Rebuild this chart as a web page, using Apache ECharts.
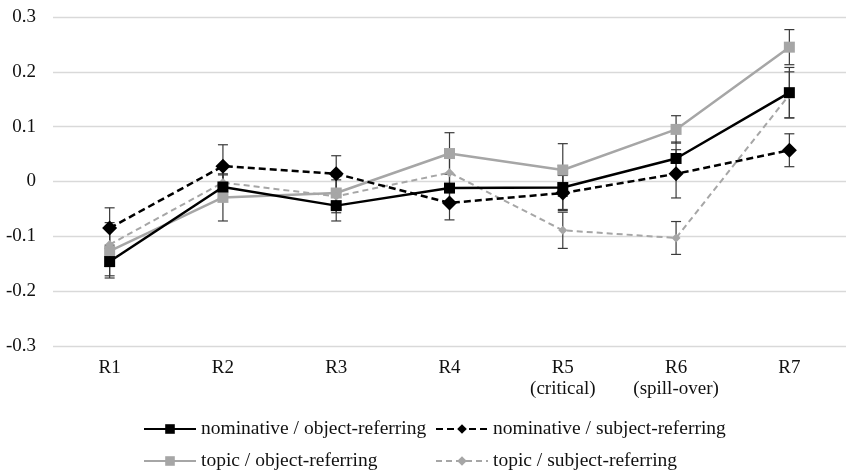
<!DOCTYPE html>
<html>
<head>
<meta charset="utf-8">
<script src="https://cdn.jsdelivr.net/npm/echarts@6/dist/echarts.min.js"></script>
<style>html,body{margin:0;padding:0;background:#fff}#c{width:846px;height:474px}</style>
</head>
<body>
<div id="c"></div>
<script>
var categories = ['R1', 'R2', 'R3', 'R4', 'R5\n(critical)', 'R6\n(spill-over)', 'R7'];
var yTicks = [-0.3, -0.2, -0.1, 0, 0.1, 0.2, 0.3];

var nomObj = [-0.146, -0.010, -0.044, -0.012, -0.011, 0.042, 0.162];
var nomObjErr = [0.030, 0.022, 0.028, 0.025, 0.040, 0.030, 0.046];

var nomSubj = [-0.085, 0.028, 0.014, -0.039, -0.021, 0.014, 0.057];
var nomSubjErr = [0.037, 0.039, 0.033, 0.031, 0.032, 0.044, 0.030];

var topObj = [-0.127, -0.029, -0.021, 0.051, 0.021, 0.095, 0.245];
var topObjErr = [0.045, 0.043, 0.030, 0.038, 0.048, 0.025, 0.032];

var topSubj = [-0.115, -0.002, -0.027, 0.016, -0.089, -0.103, 0.158];
var topSubjErr = [0.040, 0.030, 0.030, 0.030, 0.033, 0.030, 0.042];

var names = ['nominative / object-referring', 'nominative / subject-referring',
             'topic / object-referring', 'topic / subject-referring'];

var FONT = '"Liberation Serif", "DejaVu Serif", serif';

function errData(vals, errs) {
  return vals.map(function (v, i) { return [i, v - errs[i], v + errs[i]]; });
}

function errSeries(vals, errs) {
  return {
    type: 'custom',
    data: errData(vals, errs),
    encode: { x: 0, y: [1, 2] },
    silent: true,
    z: 1,
    renderItem: function (params, api) {
      var x = api.value(0);
      var lo = api.coord([x, api.value(1)]);
      var hi = api.coord([x, api.value(2)]);
      var w = 5;
      var st = { stroke: '#3a3a3a', lineWidth: 1.2, fill: null };
      return {
        type: 'group',
        children: [
          { type: 'line', shape: { x1: lo[0], y1: lo[1], x2: hi[0], y2: hi[1] }, style: st },
          { type: 'line', shape: { x1: lo[0] - w, y1: lo[1], x2: lo[0] + w, y2: lo[1] }, style: st },
          { type: 'line', shape: { x1: hi[0] - w, y1: hi[1], x2: hi[0] + w, y2: hi[1] }, style: st }
        ]
      };
    }
  };
}

var chart = echarts.init(document.getElementById('c'));
chart.setOption({
  animation: false,
  backgroundColor: '#fff',
  grid: { left: 53, top: 17, width: 800, height: 329 },
  xAxis: {
    type: 'category',
    data: categories,
    axisLine: { show: false },
    axisTick: { show: false },
    axisLabel: { fontFamily: FONT, fontSize: 19, color: '#111', margin: 12, lineHeight: 21 }
  },
  yAxis: {
    type: 'value',
    min: yTicks[0],
    max: yTicks[yTicks.length - 1],
    interval: 0.1,
    axisLine: { show: false },
    axisTick: { show: false },
    splitLine: { lineStyle: { color: '#d9d9d9', width: 1.3 } },
    axisLabel: {
      fontFamily: FONT, fontSize: 19, color: '#111', margin: 17,
      formatter: function (v) {
        var r = Math.round(v * 10) / 10;
        return r === 0 ? '0' : r.toFixed(1);
      }
    }
  },
  legend: [
    {
      orient: 'vertical', left: 143, top: 419, itemGap: 12, itemWidth: 52, itemHeight: 12,
      padding: 0,
      data: [names[0], names[2]],
      textStyle: { fontFamily: FONT, fontSize: 19.5, color: '#111', lineHeight: 20 }
    },
    {
      orient: 'vertical', left: 435, top: 419, itemGap: 12, itemWidth: 52, itemHeight: 12,
      padding: 0,
      data: [names[1], names[3]],
      textStyle: { fontFamily: FONT, fontSize: 19.5, color: '#111', lineHeight: 20 }
    }
  ],
  series: [
    errSeries(nomObj, nomObjErr),
    errSeries(nomSubj, nomSubjErr),
    errSeries(topObj, topObjErr),
    errSeries(topSubj, topSubjErr),
    {
      name: names[2], type: 'line', data: topObj, z: 3,
      symbol: 'rect', symbolSize: 11,
      itemStyle: { color: '#a6a6a6' },
      lineStyle: { color: '#a6a6a6', width: 2.5 }
    },
    {
      name: names[3], type: 'line', data: topSubj, z: 3,
      symbol: 'diamond', symbolSize: 9,
      itemStyle: { color: '#a6a6a6' },
      lineStyle: { color: '#a6a6a6', width: 2, type: [6, 4] }
    },
    {
      name: names[0], type: 'line', data: nomObj, z: 4,
      symbol: 'rect', symbolSize: 11,
      itemStyle: { color: '#000' },
      lineStyle: { color: '#000', width: 2.5 }
    },
    {
      name: names[1], type: 'line', data: nomSubj, z: 4,
      symbol: 'diamond', symbolSize: 15,
      itemStyle: { color: '#000' },
      lineStyle: { color: '#000', width: 2.5, type: [7, 4] }
    }
  ]
});
</script>
</body>
</html>
